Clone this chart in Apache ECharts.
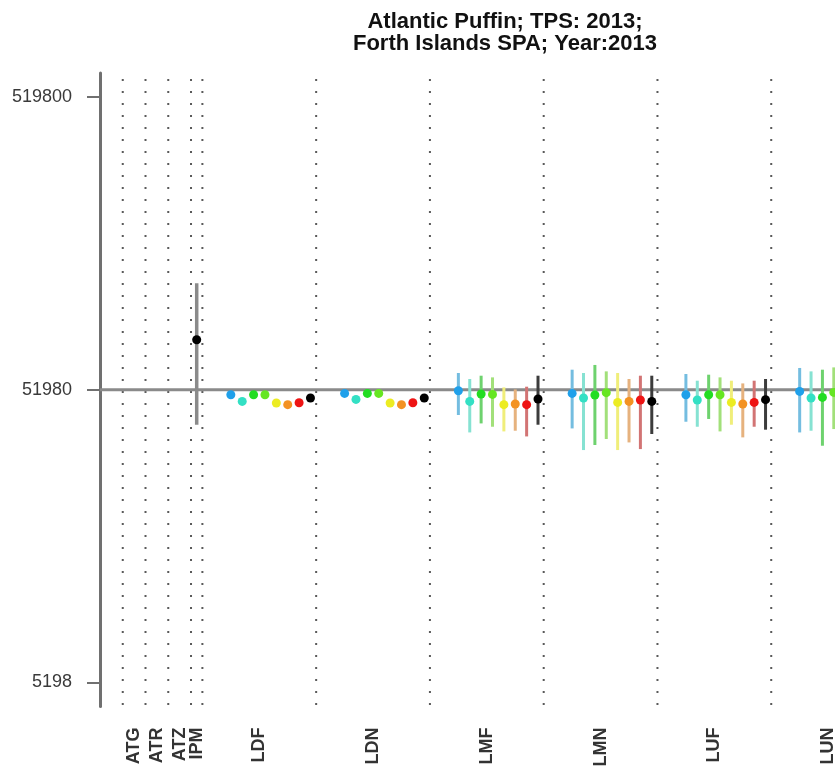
<!DOCTYPE html>
<html>
<head>
<meta charset="utf-8">
<script src="https://cdn.jsdelivr.net/npm/echarts@6/dist/echarts.min.js"></script>
<style>
html,body{margin:0;padding:0;background:#fff;}
#chart{width:835px;height:767px;}
</style>
</head>
<body>
<div id="chart"></div>
<script>
// ---- data ----
const categories = ['ATG','ATR','ATZ','IPM','LDF','LDN','LMF','LMN','LUF','LUN'];
const leadingSlots = 2;
const groupSlots = [2, 2, 2, 1, 10, 10, 10, 10, 10, 10];
const yTickValues = [5198, 51980, 519800];
const referenceValue = 51980;
const titleLines = ['Atlantic Puffin; TPS: 2013;', 'Forth Islands SPA; Year:2013'];

const ipmMean = [77000];
const ipmLow  = [39460];
const ipmHigh = [120000];

const ldfMean = [49970, 47400, 49970, 49970, 46810, 46200, 46920, 48700];
const ldnMean = [50490, 48160, 50490, 50490, 46810, 46200, 46920, 48700];

const lmfMean = [51570, 47400, 50250, 50090, 46200, 46440, 46200, 48310];
const lmfLow  = [42590, 37140, 39870, 38840, 37440, 37640, 35990, 39460];
const lmfHigh = [59280, 56550, 58030, 57270, 52930, 52080, 53220, 58030];

const lmnMean = [50490, 48700, 49860, 50770, 47030, 47400, 47930, 47400];
const lmnLow  = [38330, 32330, 33640, 35270, 32330, 34330, 32580, 36680];
const lmnHigh = [60840, 59280, 63150, 60040, 59280, 56550, 58030, 58030];

const lufMean = [49970, 47930, 49970, 49970, 47030, 46440, 47030, 48050];
const lufLow  = [40400, 38840, 41290, 37440, 39460, 35720, 38840, 37950];
const lufHigh = [58810, 55790, 58490, 57270, 55790, 54620, 55790, 56550];

const lunMean = [51290, 48700, 48920, 50890];
const lunLow  = [37140, 37640, 33450, 38140];
const lunHigh = [61670, 60040, 60840, 61950];

// ---- styles ----
const pointColors = ['#1fa0ea', '#33e0c4', '#22dd22', '#66e622', '#ecec22', '#f39222', '#ee1414', '#000000'];
const barColors   = ['#74bde0', '#86e2d2', '#6ed26e', '#a2e07a', '#f0ee7a', '#e6b27e', '#d27474', '#3c3c3c'];
const FONT = '"Liberation Sans", Arial, sans-serif';

// ---- derived structure ----
const L = v => Math.log10(v);
const starts = [];
let acc = leadingSlots;
groupSlots.forEach(s => { starts.push(acc); acc += s; });
const xMax = 69;
const boundaries = [leadingSlots].concat(starts.slice(1));
const centers = starts.map((s, i) => s + groupSlots[i] / 2);

const yMin = 3.6335, yMax = 5.7978;

const groups = {
  LDF: { mean: ldfMean },
  LDN: { mean: ldnMean },
  LMF: { mean: lmfMean, low: lmfLow, high: lmfHigh },
  LMN: { mean: lmnMean, low: lmnLow, high: lmnHigh },
  LUF: { mean: lufMean, low: lufLow, high: lufHigh },
  LUN: { mean: lunMean, low: lunLow, high: lunHigh }
};

const series = [];

// vertical dotted separators
series.push({
  type: 'custom', silent: true, z: 1,
  data: boundaries.map(b => [b, yMin, yMax]),
  encode: { x: 0, y: [1, 2] },
  renderItem: (params, api) => {
    const a = api.coord([api.value(0), api.value(1)]);
    const b = api.coord([api.value(0), api.value(2)]);
    return { type: 'line', shape: { x1: a[0], y1: b[1] + 6, x2: b[0], y2: a[1] },
      style: { stroke: '#5a5a5a', lineWidth: 2, lineDash: [2, 10] } };
  }
});

// reference line
series.push({
  type: 'custom', silent: true, z: 2,
  data: [[0, L(referenceValue), xMax]],
  encode: { x: [0, 2], y: 1 },
  renderItem: (params, api) => {
    const a = api.coord([api.value(0), api.value(1)]);
    const b = api.coord([api.value(2), api.value(1)]);
    return { type: 'line', shape: { x1: a[0], y1: a[1], x2: b[0], y2: b[1] },
      style: { stroke: '#8a8a8a', lineWidth: 3 } };
  }
});

function barSeries(data, color, width, z) {
  return {
    type: 'custom', silent: true, z: z,
    data: data,
    encode: { x: 0, y: [1, 2] },
    renderItem: (params, api) => {
      const a = api.coord([api.value(0), api.value(1)]);
      const b = api.coord([api.value(0), api.value(2)]);
      return { type: 'line', shape: { x1: a[0], y1: a[1], x2: b[0], y2: b[1] },
        style: { stroke: color, lineWidth: width } };
    }
  };
}

// IPM
const ipmIdx = categories.indexOf('IPM');
const ipmX = starts[ipmIdx] + 0.5;
series.push(barSeries(ipmMean.map((m, i) => [ipmX, L(ipmLow[i]), L(ipmHigh[i])]), '#8a8a8a', 3.5, 3));
series.push({
  type: 'scatter', z: 5, symbolSize: 9,
  itemStyle: { color: '#000', opacity: 1 },
  data: ipmMean.map(m => [ipmX, L(m)])
});

// models
for (let m = 0; m < 8; m++) {
  const pts = [], bars = [];
  Object.keys(groups).forEach(name => {
    const gi = categories.indexOf(name);
    const g = groups[name];
    if (g.mean[m] === undefined) return;
    const x = starts[gi] + 2 + m + 0.5;
    pts.push([x, L(g.mean[m])]);
    if (g.low) bars.push([x, L(g.low[m]), L(g.high[m])]);
  });
  series.push(barSeries(bars, barColors[m], 3, 3));
  series.push({
    type: 'scatter', z: 5, symbolSize: 9,
    itemStyle: { color: pointColors[m], opacity: 1 },
    data: pts
  });
}

const chart = echarts.init(document.getElementById('chart'), null, { renderer: 'canvas' });
chart.setOption({
  animation: false,
  backgroundColor: '#fff',
  title: {
    text: titleLines.join('\n'),
    left: 500, top: 6, textAlign: 'center',
    textStyle: { fontFamily: FONT, fontSize: 22, fontWeight: 'bold', color: '#111', lineHeight: 22 }
  },
  grid: { left: 100, top: 73, width: 785, height: 633.5, containLabel: false, outerBoundsMode: 'none' },
  xAxis: {
    type: 'value', min: 0, max: xMax,
    axisLine: { show: false }, axisTick: { show: false }, splitLine: { show: false },
    axisLabel: {
      customValues: centers,
      formatter: v => { const i = centers.findIndex(c => Math.abs(c - v) < 1e-6); return i >= 0 ? categories[i] : ''; },
      rotate: 90, margin: 21, hideOverlap: false, padding: [7, 0, 0, 0],
      fontFamily: FONT, fontSize: 18, fontWeight: 'bold', color: '#333'
    }
  },
  yAxis: {
    type: 'value', min: yMin, max: yMax,
    axisLine: { show: true, lineStyle: { color: '#707070', width: 3 } },
    axisTick: { show: true, customValues: yTickValues.map(L), length: 13, lineStyle: { color: '#707070', width: 2 } },
    axisLabel: {
      customValues: yTickValues.map(L),
      formatter: v => String(Math.round(Math.pow(10, v))),
      margin: 28, fontFamily: FONT, fontSize: 18, color: '#3a3a3a'
    },
    splitLine: { show: false }
  },
  series: series
});
</script>
</body>
</html>
